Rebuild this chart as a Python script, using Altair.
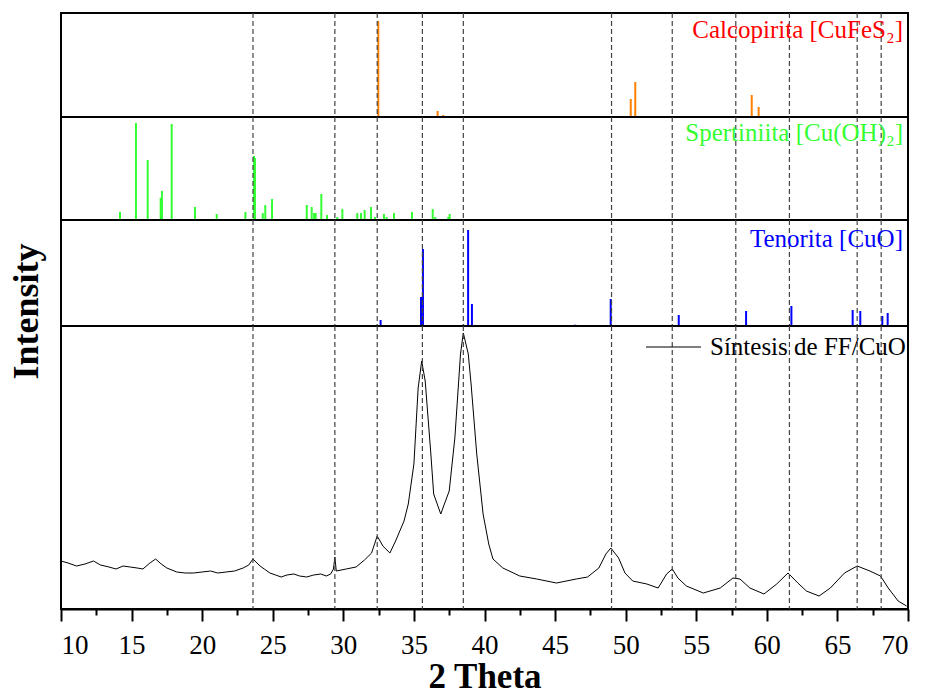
import altair as alt
import pandas as pd

FONT = "Liberation Serif"
X_DOMAIN = [10, 70]
PLOT_W = 847

# reference lines (2 Theta)
DASH_POS = [23.6, 29.4, 32.4, 35.6, 38.5, 49.0, 53.3, 57.8, 61.6, 66.4, 68.1]

# measured XRD pattern (arbitrary intensity units)
main_theta = [10.0, 10.5, 11.1, 11.7, 12.3, 12.8, 13.4, 13.9, 14.4, 14.9, 15.4, 15.8,
              16.3, 16.7, 17.1, 17.5, 18.2, 18.8, 19.4, 20.0, 20.6, 21.1, 21.7, 22.3,
              22.9, 23.3, 23.6, 24.1, 24.4, 24.8, 25.2, 25.6, 26.0, 26.5, 26.9, 27.4,
              27.9, 28.4, 28.8, 29.1, 29.3, 29.4, 29.5, 30.2, 30.9, 31.5, 32.0, 32.4,
              32.8, 33.3, 33.7, 34.3, 34.6, 35.0, 35.3, 35.55, 35.8, 36.2, 36.4, 36.9,
              37.5, 37.9, 38.3, 38.5, 38.85, 39.05, 39.45, 39.9, 40.3, 40.6, 41.3, 42.5,
              43.7, 45.1, 46.5, 47.3, 48.1, 48.6, 48.95, 49.5, 49.95, 50.5, 51.5, 52.3,
              52.9, 53.3, 53.7, 54.3, 55.5, 56.7, 57.6, 58.1, 58.8, 59.8, 60.7, 61.5,
              62.2, 62.8, 63.7, 64.5, 65.5, 66.4, 67.3, 68.05, 68.6, 69.3, 69.9]
main_int = [48, 46, 43, 45, 48, 44, 42, 40, 43, 42, 41, 40,
            46, 50, 45, 41, 37, 36, 36, 37, 38, 36, 37, 38,
            41, 44, 50, 43, 40, 36, 34, 32, 34, 35, 33, 32,
            34, 35, 33, 35, 40, 52, 38, 40, 42, 49, 56, 73,
            63, 56, 68, 88, 105, 145, 221, 248, 228, 155, 115, 95,
            118, 171, 255, 276, 255, 225, 155, 95, 65, 50, 41, 33,
            30, 26, 30, 32, 41, 55, 61, 51, 36, 28, 25, 21,
            35, 40, 31, 23, 16, 21, 31, 30, 21, 15, 25, 36,
            26, 18, 13, 21, 36, 43, 38, 33, 21, 8, 3]

# reference patterns
calco_pos = [32.48, 36.68, 37.08, 50.36, 50.68, 58.93, 59.42, 61.64]
calco_int = [96, 6, 2, 18, 35, 22, 10, 1]

sper_pos = [10.64, 14.18, 15.31, 16.14, 17.06, 17.15, 17.84, 19.49, 21.03, 23.06,
            23.67, 23.74, 24.29, 24.47, 24.95, 27.41, 27.76, 27.93, 28.04, 28.44,
            28.84, 29.57, 29.93, 30.99, 31.25, 31.51, 31.96, 32.24, 32.88, 33.07,
            33.59, 34.86, 36.33, 36.51, 37.43, 37.53]
sper_int = [1, 8, 97, 60, 22, 29, 96, 13, 6, 8,
            64, 62, 7, 15, 21, 15, 13, 7, 7, 26,
            5, 3, 11, 7, 7, 10, 13, 3, 6, 3,
            7, 8, 11, 3, 3, 6]

teno_pos = [32.64, 35.5, 35.64, 38.84, 39.11, 46.43, 48.94, 51.54, 53.76, 58.53,
            61.74, 66.08, 66.62, 68.18, 68.56]
teno_int = [6, 29, 77, 96, 22, 1.3, 27, 0.7, 11, 15,
            20, 16, 15, 10, 13]

H1, H2, H3, H4 = 104, 103, 106, 283
MAJOR_TICKS = [10, 15, 20, 25, 30, 35, 40, 45, 50, 55, 60, 65, 70]
MINOR_TICKS = [12.5, 17.5, 22.5, 27.5, 32.5, 37.5, 42.5, 47.5, 52.5, 57.5, 62.5, 67.5]


def xenc(axis=None):
    return alt.X("x:Q", scale=alt.Scale(domain=X_DOMAIN, nice=False, zero=False), axis=axis)


dash_df = pd.DataFrame({"x": DASH_POS})


def dashes(axis=None):
    return alt.Chart(dash_df).mark_rule(
        color="#444444", strokeDash=[5, 3], strokeWidth=1.2
    ).encode(x=xenc(axis))


def stick_panel(pos, inten, color, label, label_color, H, label_y, yaxis=None):
    df = pd.DataFrame({"x": pos, "y": inten})
    sticks = alt.Chart(df).mark_rule(color=color, strokeWidth=2).encode(
        x=xenc(),
        y=alt.Y("y:Q", scale=alt.Scale(domain=[0, H], nice=False, zero=True), axis=yaxis),
        y2=alt.datum(0),
    )
    text = alt.Chart(pd.DataFrame({"t": [label]})).mark_text(
        align="right", baseline="alphabetic", font=FONT, fontSize=25, color=label_color
    ).encode(x=alt.value(842), y=alt.value(label_y), text="t:N")
    return alt.layer(sticks, dashes(), text).properties(width=PLOT_W, height=H)


p1 = stick_panel(calco_pos, calco_int, "#FF8000", "Calcopirita [CuFeS₂]", "#FF0000", H1, 25)
p2 = stick_panel(sper_pos, sper_int, "#33FF33", "Spertiniita [Cu(OH)₂]", "#33FF33", H2, 24)
p3 = stick_panel(
    teno_pos, teno_int, "#0000FF", "Tenorita [CuO]", "#0000FF", H3, 27,
    yaxis=alt.Axis(
        title="Intensity", labels=False, ticks=False, domain=False, grid=False,
        titleFont=FONT, titleFontSize=36, titleFontWeight="bold", titleColor="black",
        titleAngle=270, titleBaseline="alphabetic", titleAlign="center",
        titleX=-24, titleY=91,
    ),
)

main_df = pd.DataFrame({"x": main_theta, "y": main_int, "series": "Síntesis de FF/CuO"})
major_axis = alt.Axis(
    orient="bottom", values=MAJOR_TICKS, tickSize=12,
    tickWidth=2, tickColor="black", domainColor="black", domainWidth=2,
    labelFont=FONT, labelFontSize=27, labelColor="black", labelPadding=11,
    title="2 Theta", titleFont=FONT, titleFontSize=35, titleFontWeight="bold",
    titleColor="black", titlePadding=1, grid=False,
)
minor_axis = alt.Axis(
    orient="bottom", values=MINOR_TICKS, tickSize=6, tickWidth=2, tickColor="black",
    labels=False, domain=False, title=None, grid=False,
)
line = alt.Chart(main_df).mark_line(strokeWidth=1).encode(
    x=xenc(major_axis),
    y=alt.Y("y:Q", scale=alt.Scale(domain=[0, H4], nice=False), axis=None),
    color=alt.Color(
        "series:N", scale=alt.Scale(range=["black"]),
        legend=alt.Legend(
            title=None, orient="none", legendX=584, legendY=H1 + H2 + H3 + 20 - 27.5,
            labelFont=FONT, labelFontSize=25, labelColor="black", labelOffset=8,
            symbolType="stroke", symbolSize=3025, symbolStrokeWidth=1.2,
            symbolStrokeColor="black", labelLimit=0,
        ),
    ),
)
p4 = alt.layer(line, dashes(minor_axis)).resolve_axis(x="independent").properties(
    width=PLOT_W, height=H4
)

chart = alt.vconcat(p1, p2, p3, p4, spacing=0, bounds="flush").properties(
    padding={"left": 6, "top": 11, "right": 10, "bottom": 0},
    background="white",
).configure_view(stroke="black", strokeWidth=2)

chart.save("out.html", embed_options={"renderer": "svg", "actions": False})
